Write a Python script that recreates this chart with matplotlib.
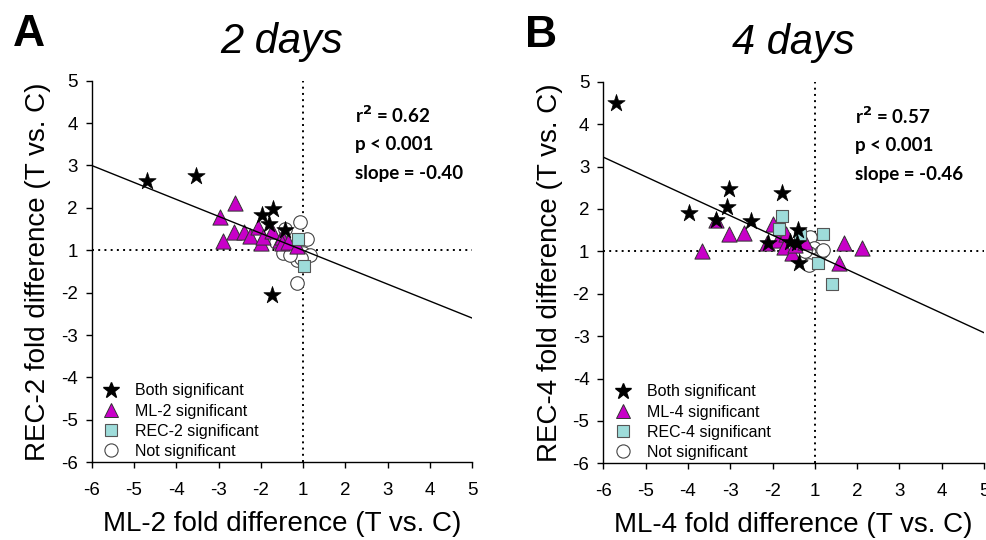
import matplotlib
matplotlib.use("Agg")
import matplotlib.pyplot as plt
from matplotlib.lines import Line2D

plt.rcParams['font.family'] = ['Liberation Sans', 'DejaVu Sans']

# fold-difference values (no values between -1 and 1)
# panel A: 2 days
a_both_x = [-4.70, -3.54, -1.97, -1.72, -1.81, -1.43, -1.74]
a_both_y = [2.63, 2.75, 1.83, 1.97, 1.61, 1.48, -2.06]
a_ml_x = [-2.61, -2.97, -2.90, -2.64, -2.41, -2.26, -2.06, -2.00, -1.94, -1.74,
          -1.55, -1.51, -1.51, -1.35, -1.15]
a_ml_y = [2.12, 1.78, 1.23, 1.42, 1.42, 1.33, 1.56, 1.18, 1.32, 1.46,
          1.24, 1.32, 1.18, 1.20, 1.10]
a_rec_x = [-1.12, 1.02]
a_rec_y = [1.26, -1.36]
a_not_x = [-1.07, 1.08, -1.43, -1.48, -1.19, 1.00, 1.16, -1.15, -1.04, -1.15, -1.63, -1.31]
a_not_y = [1.66, 1.26, 1.50, -1.06, -1.06, -1.07, -1.11, -1.23, -1.19, -1.78, 1.20, -1.11]

# panel B: 4 days
b_both_x = [-5.71, -3.97, -3.34, -3.02, -3.07, -2.52, -1.78, -2.10, -1.39, -1.59, -1.37, -1.43]
b_both_y = [4.50, 1.91, 1.75, 2.46, 2.04, 1.71, 2.37, 1.19, 1.50, 1.23, -1.28, 1.19]
b_ml_x = [-3.66, -3.34, -3.04, -2.67, -2.00, -2.12, -1.86, -1.68, -1.74, -1.55,
          -1.47, -1.23, 1.69, 2.11, 1.58]
b_ml_y = [1.01, 1.74, 1.42, 1.44, 1.64, 1.20, 1.27, 1.42, 1.11, -1.05,
          1.15, 1.23, 1.20, 1.07, -1.27]
b_rec_x = [-1.77, -1.84, -1.35, 1.19, 1.07, 1.41]
b_rec_y = [1.84, 1.52, 1.38, 1.41, -1.27, -1.78]
b_not_x = [-1.11, -1.02, 1.15, -1.15, 1.04, -1.07, -1.15, 1.20, -1.23]
b_not_y = [1.34, 1.07, -1.01, -1.05, -1.17, -1.21, -1.32, 1.03, 1.00]

# regression fits on the collapsed (fold - 1) scale
a_fit = (-0.40, 0.00)
b_fit = (-0.46, -0.08)
a_stats = ["r$^{\\mathbf{2}}$ = 0.62", "p < 0.001", "slope = -0.40"]
b_stats = ["r$^{\\mathbf{2}}$ = 0.57", "p < 0.001", "slope = -0.46"]

tick_vals = [-6, -5, -4, -3, -2, 1, 2, 3, 4, 5]


def fold_to_axis(v):
    # -1 and +1 sit at the same spot on the fold-difference axis
    if isinstance(v, list):
        return [fold_to_axis(i) for i in v]
    return v - 1 if v >= 1 else v + 1


def panel(ax, both, ml, rec, nots, fit, stats, stats_x, sample, title, letter):
    ax.axhline(0, color='black', ls=(0, (1, 2.2)), lw=1.4, zorder=1)
    ax.axvline(0, color='black', ls=(0, (1, 2.2)), lw=1.4, zorder=1)

    ax.scatter(fold_to_axis(nots[0]), fold_to_axis(nots[1]), s=95, marker='o',
               facecolor='white', edgecolor='#444444', linewidth=0.8, zorder=2)
    ax.scatter(fold_to_axis(ml[0]), fold_to_axis(ml[1]), s=120, marker='^',
               facecolor='#C800C8', edgecolor='#333333', linewidth=0.7, zorder=3)
    ax.scatter(fold_to_axis(rec[0]), fold_to_axis(rec[1]), s=85, marker='s',
               facecolor='#9EDCDA', edgecolor='#555555', linewidth=0.8, zorder=4)
    ax.scatter(fold_to_axis(both[0]), fold_to_axis(both[1]), s=170, marker='*',
               facecolor='black', edgecolor='black', linewidth=0.5, zorder=5)

    xs = [-5, 4]
    ax.plot(xs, [fit[0] * x + fit[1] for x in xs], color='black', lw=1.0, zorder=6)

    ticks = fold_to_axis(tick_vals)
    ax.set_xlim(-5, 4)
    ax.set_ylim(-5, 4)
    ax.set_xticks(ticks)
    ax.set_xticklabels([str(t) for t in tick_vals])
    ax.set_yticks(ticks)
    ax.set_yticklabels([str(t) for t in tick_vals])
    ax.tick_params(direction='out', length=4, width=1, labelsize=13.5)
    ax.tick_params(axis='x', pad=10)
    ax.tick_params(axis='y', pad=6)
    for s in ['top', 'right']:
        ax.spines[s].set_visible(False)
    for s in ['left', 'bottom']:
        ax.spines[s].set_linewidth(1)

    ax.set_xlabel(sample + ' fold difference (T vs. C)', fontsize=20, labelpad=9)
    ax.set_ylabel(sample.replace('ML', 'REC') + ' fold difference (T vs. C)',
                  fontsize=20, labelpad=7)
    ax.set_title(title, fontsize=30, style='italic', pad=20)
    ax.text(-0.207, 1.12, letter, transform=ax.transAxes, fontsize=32,
            fontweight='bold', va='center', ha='left')

    for i, line in enumerate(stats):
        ax.text(stats_x, 0.91 - i * 0.077, line, transform=ax.transAxes,
                fontsize=13.5, fontweight='bold', family=['Lato', 'DejaVu Sans'],
                va='center', ha='left')

    handles = [
        Line2D([], [], ls='', marker='*', ms=12, mfc='black', mec='black'),
        Line2D([], [], ls='', marker='^', ms=10, mfc='#C800C8', mec='#333333', mew=0.7),
        Line2D([], [], ls='', marker='s', ms=8.5, mfc='#9EDCDA', mec='#555555', mew=0.8),
        Line2D([], [], ls='', marker='o', ms=9.5, mfc='white', mec='#444444', mew=0.8),
    ]
    labels = ['Both significant', sample + ' significant',
              sample.replace('ML', 'REC') + ' significant', 'Not significant']
    ax.legend(handles, labels, loc='lower left', bbox_to_anchor=(-0.02, -0.02),
              frameon=False, fontsize=11.5, handletextpad=0.5,
              labelspacing=0.32, borderpad=0.2)


fig = plt.figure(figsize=(9.87, 5.4), dpi=100)
ax1 = fig.add_axes([0.0929, 0.1439, 0.3856, 0.7067])
ax2 = fig.add_axes([0.6113, 0.1420, 0.3857, 0.7067])

panel(ax1, (a_both_x, a_both_y), (a_ml_x, a_ml_y), (a_rec_x, a_rec_y),
      (a_not_x, a_not_y), a_fit, a_stats, 0.692, 'ML-2', '2 days', 'A')
panel(ax2, (b_both_x, b_both_y), (b_ml_x, b_ml_y), (b_rec_x, b_rec_y),
      (b_not_x, b_not_y), b_fit, b_stats, 0.662, 'ML-4', '4 days', 'B')

fig.savefig('out.png', dpi=100)
